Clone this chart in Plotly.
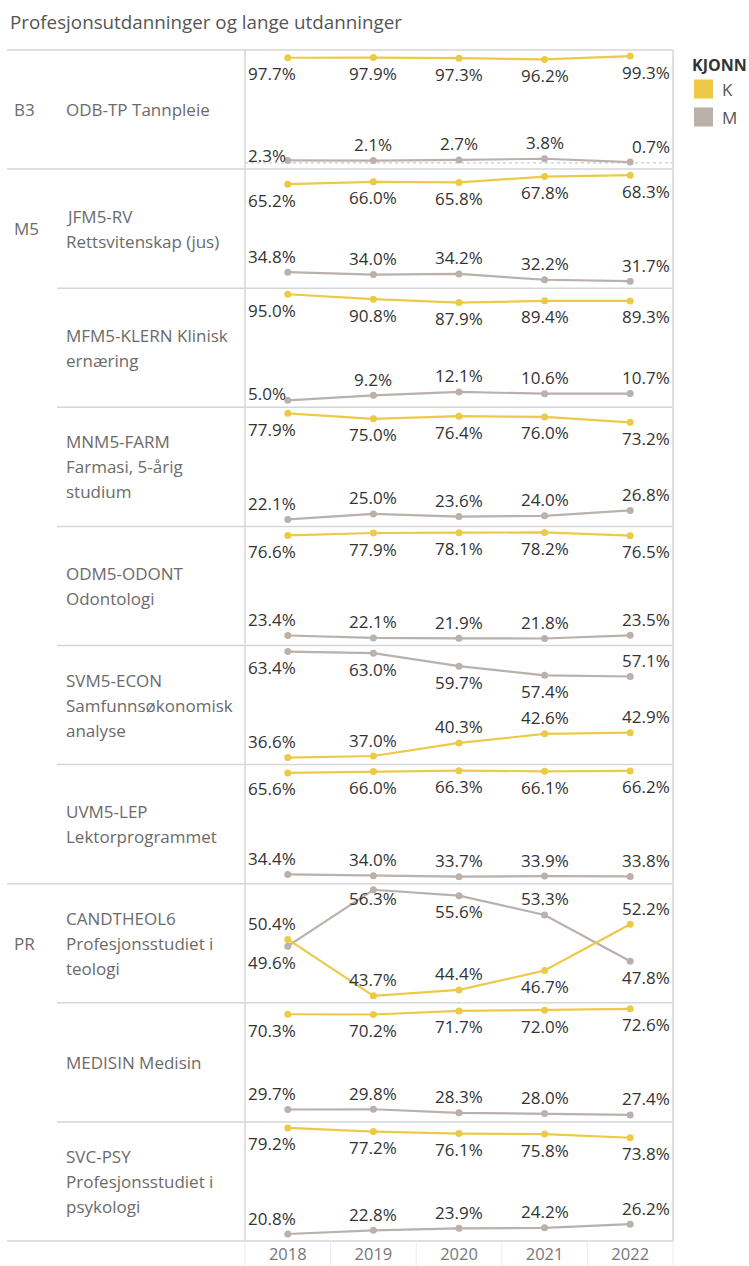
import plotly.graph_objects as go
from plotly.subplots import make_subplots

# ---------------- data ----------------
years = [2018, 2019, 2020, 2021, 2022]
groups = ["B3", "M5", "M5", "M5", "M5", "M5", "M5", "PR", "PR", "PR"]
programs = [
    ["ODB-TP Tannpleie"],
    ["JFM5-RV", "Rettsvitenskap (jus)"],
    ["MFM5-KLERN Klinisk", "ernæring"],
    ["MNM5-FARM", "Farmasi, 5-årig", "studium"],
    ["ODM5-ODONT", "Odontologi"],
    ["SVM5-ECON", "Samfunnsøkonomisk", "analyse"],
    ["UVM5-LEP", "Lektorprogrammet"],
    ["CANDTHEOL6", "Profesjonsstudiet i", "teologi"],
    ["MEDISIN Medisin"],
    ["SVC-PSY", "Profesjonsstudiet i", "psykologi"],
]
k_values = [
    [97.7, 97.9, 97.3, 96.2, 99.3],
    [65.2, 66.0, 65.8, 67.8, 68.3],
    [95.0, 90.8, 87.9, 89.4, 89.3],
    [77.9, 75.0, 76.4, 76.0, 73.2],
    [76.6, 77.9, 78.1, 78.2, 76.5],
    [36.6, 37.0, 40.3, 42.6, 42.9],
    [65.6, 66.0, 66.3, 66.1, 66.2],
    [50.4, 43.7, 44.4, 46.7, 52.2],
    [70.3, 70.2, 71.7, 72.0, 72.6],
    [79.2, 77.2, 76.1, 75.8, 73.8],
]
m_values = [
    [2.3, 2.1, 2.7, 3.8, 0.7],
    [34.8, 34.0, 34.2, 32.2, 31.7],
    [5.0, 9.2, 12.1, 10.6, 10.7],
    [22.1, 25.0, 23.6, 24.0, 26.8],
    [23.4, 22.1, 21.9, 21.8, 23.5],
    [63.4, 63.0, 59.7, 57.4, 57.1],
    [34.4, 34.0, 33.7, 33.9, 33.8],
    [49.6, 56.3, 55.6, 53.3, 47.8],
    [29.7, 29.8, 28.3, 28.0, 27.4],
    [20.8, 22.8, 23.9, 24.2, 26.2],
]
series_names = ["K", "M"]
title_text = "Profesjonsutdanninger og lange utdanninger"
legend_title = "KJONN"

# ---------------- styling ----------------
# label placement (A = above point, B = below point), per row, per series
k_pos = ["BBBBB", "BBBBB", "BBBBB", "BBBBB", "BBBBB", "AAAAA", "BBBBB", "AAABA", "BBBBB", "BBBBB"]
m_pos = ["BAAAA", "AAAAA", "BAAAA", "AAAAA", "AAAAA", "BBBBA", "AAAAA", "BABAB", "AAAAA", "AAAAA"]

COL_K = "#EDC948"
COL_M = "#BAB0AC"
FONT = "Open Sans"
W, H = 749, 1266
L, R, T, B = 245, 673, 50, 1241
n = len(programs)
row_h = (B - T) / n
XMIN, XMAX = 2017.5, 2022.5
GRID = "#d6d6d6"


def xp(px):
    return (px - L) / (R - L)


def yp(py):
    return (B - py) / (B - T)


def px_of_year(yr):
    return L + (yr - XMIN) / (XMAX - XMIN) * (R - L)


fig = make_subplots(rows=n, cols=1, shared_xaxes=True, vertical_spacing=0)

annotations = []
shapes = []
for i in range(n):
    allv = k_values[i] + m_values[i]
    vmin, vmax = min(allv), max(allv)
    span = vmax - vmin
    lo = vmin - span * 0.066
    hi = vmax + span * 0.057
    r = i + 1
    for name, vals, col in (("M", m_values[i], COL_M), ("K", k_values[i], COL_K)):
        fig.add_trace(
            go.Scatter(
                x=years, y=vals, mode="lines+markers", name=name,
                line=dict(color=col, width=2.2),
                marker=dict(color=col, size=7),
                showlegend=False, hoverinfo="skip",
            ),
            row=r, col=1,
        )
    fig.update_yaxes(range=[lo, hi], showgrid=False, showticklabels=False,
                     zeroline=False, showline=False, automargin=False, row=r, col=1)

    row_top = T + i * row_h
    row_bot = row_top + row_h
    axis_suffix = "" if r == 1 else str(r)
    for vals, pos in ((k_values[i], k_pos[i]), (m_values[i], m_pos[i])):
        for j, (yr, v) in enumerate(zip(years, vals)):
            ppx = row_top + (hi - v) / (hi - lo) * row_h
            center = ppx + (16 if pos[j] == "B" else -16)
            center = max(row_top + 15, min(row_bot - 14, center))
            ysh = ppx - center
            if j == 0:
                xa, xsh = "left", 246 - px_of_year(yr)
            elif j == len(years) - 1:
                xa, xsh = "right", 672 - px_of_year(yr)
            else:
                xa, xsh = "center", 0
            annotations.append(dict(
                x=yr, y=v, xref="x" + axis_suffix, yref="y" + axis_suffix,
                text=f"{v:.1f}%", showarrow=False,
                xanchor=xa, yanchor="middle", xshift=xsh, yshift=ysh,
                font=dict(family=FONT, size=17, color="#333333"),
            ))

    # program name lines
    lines = programs[i]
    center = row_top + row_h / 2
    for k, line in enumerate(lines):
        cy = center + (k - (len(lines) - 1) / 2) * 25
        annotations.append(dict(
            x=xp(64), y=yp(cy), xref="paper", yref="paper", text=line,
            showarrow=False, xanchor="left", yanchor="middle",
            font=dict(family=FONT, size=17, color="#6b6b6b"),
        ))
    # group label at first row of group
    if i == 0 or groups[i] != groups[i - 1]:
        annotations.append(dict(
            x=xp(12), y=yp(center), xref="paper", yref="paper", text=groups[i],
            showarrow=False, xanchor="left", yanchor="middle",
            font=dict(family=FONT, size=17, color="#6b6b6b"),
        ))

# dotted zero line in first pane
shapes.append(dict(type="line", xref="paper", yref="y", x0=0, x1=1, y0=0, y1=0,
                   line=dict(color="#bdbdbd", width=1, dash="dot"), layer="below"))

# row separators
for i in range(n + 1):
    py = T + i * row_h
    group_boundary = i == 0 or i == n or groups[i] != groups[i - 1]
    x0 = 7 if group_boundary else 57
    shapes.append(dict(type="line", xref="paper", yref="paper",
                       x0=xp(x0), x1=xp(R), y0=yp(py), y1=yp(py),
                       line=dict(color=GRID, width=1.5)))
# vertical borders
for px in (L, R):
    shapes.append(dict(type="line", xref="paper", yref="paper",
                       x0=xp(px), x1=xp(px), y0=yp(T), y1=yp(B),
                       line=dict(color=GRID, width=1.5)))
# faint column header dividers
for k in range(len(years) + 1):
    px = L + k * (R - L) / len(years)
    shapes.append(dict(type="line", xref="paper", yref="paper",
                       x0=xp(px), x1=xp(px), y0=yp(B), y1=yp(H),
                       line=dict(color="#ececec", width=1)))

# title
annotations.append(dict(
    x=xp(8), y=yp(22), xref="paper", yref="paper", text=title_text,
    showarrow=False, xanchor="left", yanchor="middle",
    font=dict(family=FONT, size=18.8, color="#555555"),
))

# legend
annotations.append(dict(
    x=xp(690), y=yp(65), xref="paper", yref="paper", text=f"<b>{legend_title}</b>",
    showarrow=False, xanchor="left", yanchor="middle",
    font=dict(family=FONT, size=16, color="#333333"),
))
for k, (nm, col) in enumerate(zip(series_names, (COL_K, COL_M))):
    cy = 89 + k * 28
    shapes.append(dict(type="rect", xref="paper", yref="paper",
                       x0=xp(694), x1=xp(713), y0=yp(cy - 9.5), y1=yp(cy + 9.5),
                       fillcolor=col, line=dict(width=0)))
    annotations.append(dict(
        x=xp(720), y=yp(cy), xref="paper", yref="paper", text=nm,
        showarrow=False, xanchor="left", yanchor="middle",
        font=dict(family=FONT, size=17, color="#555555"),
    ))

fig.update_xaxes(range=[XMIN, XMAX], showgrid=False, zeroline=False, showline=False,
                 tickvals=years, ticktext=[str(y) for y in years], ticks="",
                 automargin=False)
fig.update_xaxes(showticklabels=False)
fig.update_xaxes(showticklabels=True, tickfont=dict(family=FONT, size=16.5, color="#777777"),
                 ticklabelstandoff=1, row=n, col=1)

fig.update_layout(
    width=W, height=H,
    margin=dict(l=L, r=W - R, t=T, b=H - B, pad=0, autoexpand=False),
    paper_bgcolor="white", plot_bgcolor="white",
    annotations=annotations, shapes=shapes,
    showlegend=False,
    font=dict(family=FONT),
)

fig.write_html("out.html", config={"displayModeBar": False},
               post_script="document.body.style.margin='0';")
